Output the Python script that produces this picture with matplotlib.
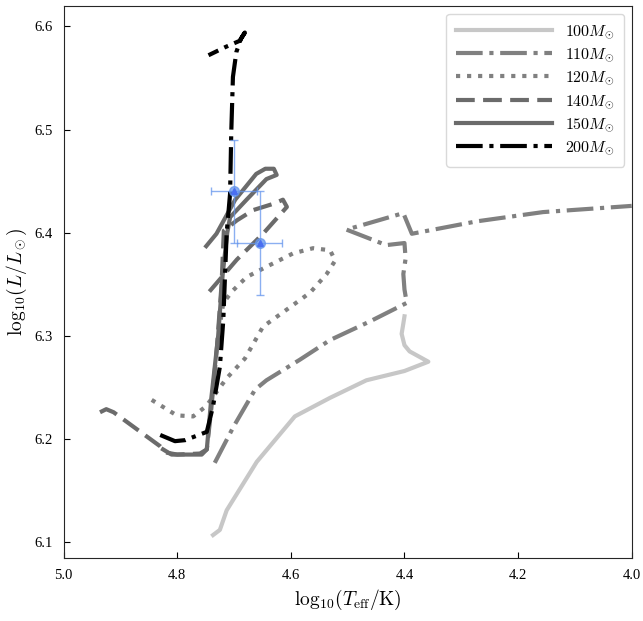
import numpy as np
import matplotlib
matplotlib.use("Agg")
import matplotlib.pyplot as plt

plt.rcParams['font.family'] = ['Liberation Serif', 'DejaVu Serif']
plt.rcParams['mathtext.fontset'] = 'cm'

# evolutionary tracks: (log Teff, log L)
t100 = [4.737, 4.725, 4.713, 4.66, 4.593, 4.531, 4.467, 4.40, 4.358, 4.391, 4.400, 4.405, 4.402, 4.400]
l100 = [6.107, 6.112, 6.131, 6.178, 6.222, 6.240, 6.257, 6.266, 6.275, 6.285, 6.291, 6.302, 6.312, 6.319]

t110 = [4.734, 4.701, 4.663, 4.643, 4.584, 4.531, 4.461, 4.396, 4.400, 4.402, 4.398, 4.400,
        4.432, 4.502, 4.402, 4.387, 4.273, 4.156, 4.0]
l110 = [6.177, 6.212, 6.248, 6.257, 6.277, 6.296, 6.314, 6.332, 6.345, 6.36, 6.375, 6.39,
        6.388, 6.403, 6.419, 6.399, 6.411, 6.420, 6.426]

t120 = [4.845, 4.801, 4.772, 4.749, 4.713, 4.681, 4.649, 4.601, 4.566, 4.537, 4.522, 4.531,
        4.561, 4.596, 4.643, 4.678, 4.702, 4.719, 4.725]
l120 = [6.238, 6.223, 6.222, 6.232, 6.259, 6.278, 6.309, 6.328, 6.342, 6.360, 6.373, 6.383,
        6.385, 6.380, 6.367, 6.357, 6.344, 6.332, 6.31]

t140 = [4.936, 4.925, 4.912, 4.83, 4.82, 4.80, 4.76, 4.748, 4.74, 4.73, 4.722, 4.718,
        4.695, 4.666, 4.631, 4.614, 4.607, 4.649, 4.695, 4.745]
l140 = [6.226, 6.229, 6.226, 6.193, 6.187, 6.185, 6.186, 6.19, 6.23, 6.29, 6.35, 6.402,
        6.412, 6.422, 6.428, 6.432, 6.425, 6.399, 6.374, 6.342]

t150 = [4.825, 4.81, 4.757, 4.748, 4.74, 4.728, 4.72, 4.712, 4.707, 4.678, 4.643, 4.625,
        4.630, 4.645, 4.661, 4.698, 4.731, 4.749]
l150 = [6.19, 6.185, 6.185, 6.19, 6.24, 6.30, 6.36, 6.40, 6.415, 6.432, 6.452, 6.456,
        6.462, 6.462, 6.457, 6.432, 6.399, 6.387]

t200 = [4.830, 4.804, 4.786, 4.748, 4.737, 4.725, 4.719, 4.713, 4.707, 4.705, 4.702,
        4.696, 4.688, 4.681, 4.690, 4.715, 4.745]
l200 = [6.204, 6.198, 6.199, 6.207, 6.232, 6.270, 6.315, 6.400, 6.438, 6.496, 6.551,
        6.575, 6.588, 6.594, 6.586, 6.580, 6.572]

# observed stars
obs_t = [4.70, 4.655]
obs_l = [6.44, 6.39]
obs_terr = [0.04, 0.04]
obs_lerr = [0.05, 0.05]

fig = plt.figure(figsize=(6.43, 6.21), dpi=100)
ax = fig.add_axes([0.099, 0.101, 0.8834, 0.8898])

lw = 3
ax.plot(t100, l100, color='0.78', lw=lw, ls='-', label=r'$100M_{\odot}$')
ax.plot(t110, l110, color='0.5', lw=lw, ls=(0, (6.4, 1.6, 1, 1.6)), label=r'$110M_{\odot}$')
ax.plot(t120, l120, color='0.5', lw=lw, ls=(0, (1, 1.65)), label=r'$120M_{\odot}$')
ax.plot(t140, l140, color='0.42', lw=lw, ls=(0, (4.5, 2)), label=r'$140M_{\odot}$')
ax.plot(t150, l150, color='0.42', lw=lw, ls='-', label=r'$150M_{\odot}$')
ax.plot(t200, l200, color='k', lw=lw, ls=(0, (6.4, 1.6, 1, 1.6)), label=r'$200M_{\odot}$')

ax.errorbar(obs_t, obs_l, xerr=obs_terr, yerr=obs_lerr, fmt='o', color='cornflowerblue',
            ms=7, elinewidth=1, capsize=3, alpha=0.75)
ax.plot(obs_t, obs_l, '^', color='blue', ms=5)

ax.set_xlim(5.0, 4.0)
ax.set_ylim(6.0845, 6.62)
ax.set_xticks([5.0, 4.8, 4.6, 4.4, 4.2, 4.0])
ax.set_yticks([6.1, 6.2, 6.3, 6.4, 6.5, 6.6])
ax.tick_params(direction='in', length=4.5, labelsize=10.5, pad=8)
for s in ax.spines.values():
    s.set_color('0.15')

ax.set_xlabel(r'$\mathrm{log}_{10}(T_{\rm eff}/{\rm K})$', fontsize=14)
ax.set_ylabel(r'$\mathrm{log}_{10}(L/L_\odot)$', fontsize=14)

ax.legend(loc='upper right', fontsize=11.5, handlelength=6, labelspacing=0.35,
          borderpad=0.6, framealpha=1, edgecolor='0.85')

fig.savefig('out.png', dpi=100)
